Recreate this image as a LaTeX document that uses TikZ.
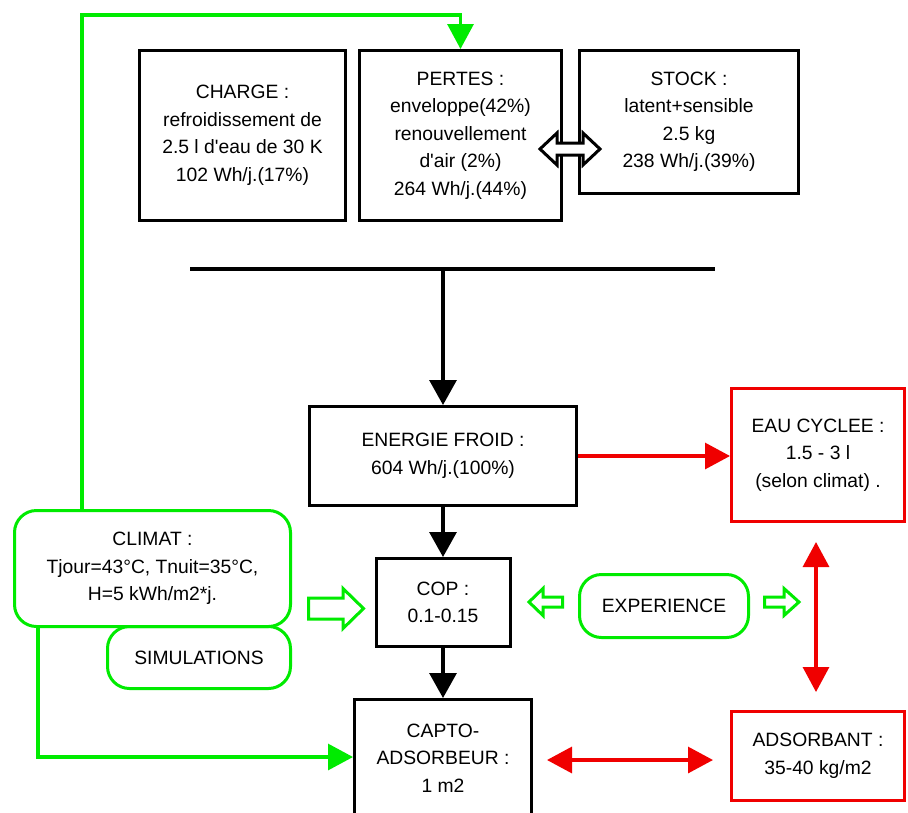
\documentclass[tikz,border=0pt]{standalone}
\usepackage{fontspec}
\setmainfont{Liberation Sans}[Ligatures=TeXOff]
\usetikzlibrary{arrows.meta}
\definecolor{gr}{RGB}{0,235,0}
\definecolor{rd}{RGB}{240,0,0}
\begin{document}
\begin{tikzpicture}[x=1pt,y=-1pt,
  txt/.style={align=center,font=\fontsize{19.3}{27.5}\selectfont,inner sep=0pt},
  blackbox/.style={txt,draw=black,line width=3pt},
  redbox/.style={txt,draw=rd,line width=3pt},
  greenbox/.style={txt,draw=gr,line width=3pt,rounded corners=22pt},
  blkline/.style={draw=black,line width=3.2pt},
  blkarrow/.style={draw=black,line width=3.2pt,-{Triangle[width=27pt,length=25pt]}},
  redarrow/.style={draw=rd,line width=3.2pt,-{Triangle[width=26pt,length=25pt]}},
  reddbl/.style={draw=rd,line width=3.2pt,{Triangle[width=26pt,length=25pt]}-{Triangle[width=26pt,length=25pt]}},
  greenarrow/.style={draw=gr,line width=3.2pt,-{Triangle[width=26pt,length=25pt]}},
  hollowgreen/.style={draw=gr,line width=3pt,fill=white,line join=miter},
  hollowblack/.style={draw=black,line width=3pt,fill=white,line join=miter}]
\useasboundingbox (0,0) rectangle (908,812);
\fill[white] (0,0) rectangle (908,812);

% top boxes
\node[blackbox,minimum width=206pt,minimum height=170pt] (charge) at (242.5,135.5)
  {CHARGE :\\refroidissement de\\2.5 l d'eau de 30 K\\102 Wh/j.(17\%)};
\node[blackbox,minimum width=202pt,minimum height=170pt] (pertes) at (460.5,135.5)
  {PERTES :\\enveloppe(42\%)\\renouvellement\\d'air (2\%)\\264 Wh/j.(44\%)};
\node[blackbox,minimum width=219pt,minimum height=143pt] (stock) at (689,122)
  {STOCK :\\latent+sensible\\2.5 kg\\238 Wh/j.(39\%)};

% middle
\node[blackbox,minimum width=267pt,minimum height=99pt] (energie) at (443,456)
  {ENERGIE FROID :\\604 Wh/j.(100\%)};
\node[redbox,minimum width=173pt,minimum height=133pt] (eau) at (818,455)
  {EAU CYCLEE :\\1.5 - 3 l\\(selon climat) .};
\node[blackbox,minimum width=134pt,minimum height=88pt] (cop) at (443,602.5)
  {COP :\\0.1-0.15};
\node[blackbox,minimum width=177pt,minimum height=117pt] (capto) at (443,758)
  {CAPTO-\\ADSORBEUR :\\1 m2};
\node[redbox,minimum width=173pt,minimum height=89pt] (adsorbant) at (818,756)
  {ADSORBANT :\\35-40 kg/m2};
\node[greenbox,minimum width=276pt,minimum height=116pt] (climat) at (152.5,568.5)
  {CLIMAT :\\Tjour=43°C, Tnuit=35°C,\\H=5 kWh/m2*j.};
\node[greenbox,minimum width=183pt,minimum height=62pt] (simul) at (199,657.5)
  {SIMULATIONS};
\node[greenbox,minimum width=169pt,minimum height=63pt] (exper) at (664,606)
  {EXPERIENCE};

% bar and black arrows
\coordinate (barL) at (190,269);
\coordinate (barR) at (715,269);
\draw[blkline] (barL) -- (barR);
\draw[blkarrow] (energie.north |- barL) -- (energie.north);
\draw[blkarrow] (energie.south) -- (cop.north);
\draw[blkarrow] (cop.south) -- (capto.north);

% red arrows
\draw[redarrow] (energie.east) -- (energie.east -| eau.west);
\draw[reddbl,shorten <=19pt,shorten >=18pt] ([xshift=-2pt]eau.south) -- ([xshift=-2pt]adsorbant.north);
\path ([yshift=-2pt]capto.east) coordinate (ra);
\draw[reddbl,shorten <=14pt,shorten >=17pt] (ra) -- (ra -| adsorbant.west);

% green connectors
\coordinate (gtop) at (82,15);
\draw[greenarrow] (gtop |- climat.north) -- (gtop) -| (pertes.north);
\coordinate (gbot) at (38,757);
\draw[greenarrow] (gbot |- climat.south) -- (gbot) -- (gbot -| capto.west);

% hollow arrows
\draw[hollowgreen] (308.5,598) -- (343,598) -- (343,588.5) -- (363.5,608.5) -- (343,628.5) -- (343,619) -- (308.5,619) -- cycle;
\draw[hollowgreen] (562.5,597) -- (543,597) -- (543,588.5) -- (529,602) -- (543,615.5) -- (543,607) -- (562.5,607) -- cycle;
\draw[hollowgreen] (764.5,597) -- (784,597) -- (784,588.5) -- (799,602) -- (784,615.5) -- (784,607) -- (764.5,607) -- cycle;
\draw[hollowblack] (540,149) -- (557,133) -- (557,143) -- (583,143) -- (583,133) -- (600,149) -- (583,165) -- (583,155) -- (557,155) -- (557,165) -- cycle;
\end{tikzpicture}
\end{document}
